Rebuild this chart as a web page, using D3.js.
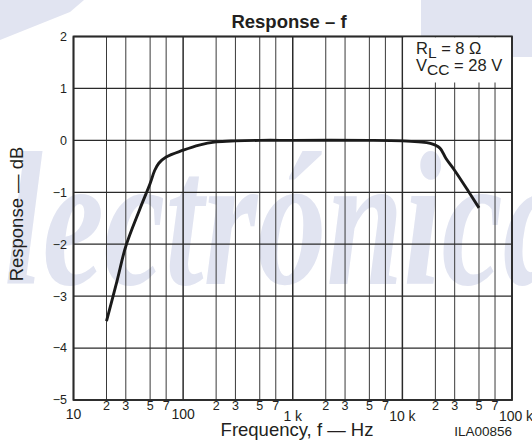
<!DOCTYPE html>
<html>
<head>
<meta charset="utf-8">
<script src="https://cdn.jsdelivr.net/npm/d3@7"></script>
<style>
  body { margin: 0; background: #fff; }
  svg text { font-family: "Liberation Sans", Arial, sans-serif; fill: #231f20; }
</style>
</head>
<body>
<script>
// curve data
const freqs = [20, 25, 30, 40, 50, 55, 60, 70, 100, 140, 200, 300, 500, 1000, 5000, 10000, 14000, 18000, 22000, 25000, 30000, 40000, 50000];
const response = [-3.48, -2.7, -2.04, -1.34, -0.83, -0.58, -0.44, -0.32, -0.19, -0.09, -0.03, -0.01, 0, 0, 0, -0.01, -0.03, -0.06, -0.15, -0.35, -0.58, -0.98, -1.3];

const decades = [10, 100, 1000, 10000, 100000];
const decadeLabels = ["10", "100", "1 k", "10 k", "100 k"];
const minorSteps = [2, 3, 5, 7];
const yTicks = [2, 1, 0, -1, -2, -3, -4, -5];

const W = 532, H = 442;
const pLeft = 73.5, pRight = 512, pTop = 36.5, pBottom = 400;

const svg = d3.select("body").append("svg")
  .attr("width", W)
  .attr("height", H);

const x = d3.scaleLog().domain([10, 100000]).range([pLeft, pRight]);
const y = d3.scaleLinear().domain([-5, 2]).range([pBottom, pTop]);

// faint watermark behind everything
const wm = "#e1e4f1";
svg.append("path")
  .attr("d", "M0,0 L84,0 L70,12 L0,40 Z")
  .attr("fill", wm);
svg.append("rect")
  .attr("x", 421).attr("y", 0).attr("width", 111).attr("height", 36)
  .attr("fill", wm);
svg.append("rect")
  .attr("x", 512).attr("y", 36).attr("width", 20).attr("height", 21)
  .attr("fill", wm);
svg.append("text")
  .attr("x", -88).attr("y", 284)
  .attr("textLength", 660)
  .attr("lengthAdjust", "spacingAndGlyphs")
  .style("font-family", "'Liberation Serif', 'DejaVu Serif', serif")
  .style("font-style", "italic")
  .style("font-weight", "bold")
  .style("font-size", "190px")
  .style("fill", wm)
  .text("Electrónica");

// minor vertical grid
const minorVals = [];
decades.slice(0, 4).forEach(d => minorSteps.forEach(m => minorVals.push(d * m)));

svg.append("g").selectAll("line")
  .data(minorVals)
  .enter().append("line")
  .attr("x1", d => x(d)).attr("x2", d => x(d))
  .attr("y1", pTop).attr("y2", pBottom)
  .attr("stroke", "#3a3a3a").attr("stroke-width", 1);

// decade lines
svg.append("g").selectAll("line")
  .data(decades)
  .enter().append("line")
  .attr("x1", d => x(d)).attr("x2", d => x(d))
  .attr("y1", pTop).attr("y2", pBottom)
  .attr("stroke", "#2a2a2a").attr("stroke-width", 1.5);

// horizontal grid
svg.append("g").selectAll("line")
  .data(yTicks)
  .enter().append("line")
  .attr("x1", pLeft).attr("x2", pRight)
  .attr("y1", d => y(d)).attr("y2", d => y(d))
  .attr("stroke", "#2a2a2a").attr("stroke-width", 1.3);

// frame
svg.append("rect")
  .attr("x", pLeft).attr("y", pTop)
  .attr("width", pRight - pLeft).attr("height", pBottom - pTop)
  .attr("fill", "none").attr("stroke", "#2a2a2a").attr("stroke-width", 1.8);

// response curve
const line = d3.line()
  .x((d, i) => x(freqs[i]))
  .y(d => y(d))
  .curve(d3.curveCatmullRom.alpha(0.5));

svg.append("path")
  .datum(response)
  .attr("d", line)
  .attr("fill", "none")
  .attr("stroke", "#1a1a1a")
  .attr("stroke-width", 2.9)
  .attr("stroke-linejoin", "round");

// legend box
svg.append("rect")
  .attr("x", x(10000) + 1).attr("y", pTop + 1)
  .attr("width", pRight - x(10000) - 2).attr("height", 45)
  .attr("fill", "#fff");

const leg1 = svg.append("text").attr("x", 416).attr("y", 54).style("font-size", "16.5px");
leg1.append("tspan").text("R");
leg1.append("tspan").attr("dy", 4).style("font-size", "15.5px").text("L");
leg1.append("tspan").attr("dy", -4).text(" = 8 Ω");

const leg2 = svg.append("text").attr("x", 416).attr("y", 71).style("font-size", "16.5px");
leg2.append("tspan").text("V");
leg2.append("tspan").attr("dy", 4).style("font-size", "15.5px").text("CC");
leg2.append("tspan").attr("dy", -4).text(" = 28 V");

// y tick labels
svg.append("g").selectAll("text")
  .data(yTicks)
  .enter().append("text")
  .attr("x", 67)
  .attr("y", d => y(d))
  .attr("dy", "0.35em")
  .attr("text-anchor", "end")
  .style("font-size", "12.5px")
  .text(d => d < 0 ? "\u2212" + Math.abs(d) : d);

// x tick labels: minor digits and decades
svg.append("g").selectAll("text")
  .data(minorVals)
  .enter().append("text")
  .attr("x", d => x(d))
  .attr("y", 410)
  .attr("text-anchor", "middle")
  .style("font-size", "12.5px")
  .text(d => String(d).charAt(0));

svg.append("g").selectAll("text")
  .data(decades)
  .enter().append("text")
  .attr("x", (d, i) => x(d) + (i === 4 ? 4 : 0))
  .attr("y", (d, i) => i >= 2 ? 421 : 419)
  .attr("text-anchor", "middle")
  .style("font-size", "14px")
  .text((d, i) => decadeLabels[i]);

// titles
svg.append("text")
  .attr("x", 289).attr("y", 28)
  .attr("text-anchor", "middle")
  .style("font-size", "18.5px")
  .style("font-weight", "bold")
  .text("Response \u2013 f");

svg.append("text")
  .attr("x", 297).attr("y", 436)
  .attr("text-anchor", "middle")
  .style("font-size", "18.5px")
  .text("Frequency, f \u2014 Hz");

svg.append("text")
  .attr("transform", "translate(23,214) rotate(-90)")
  .attr("text-anchor", "middle")
  .style("font-size", "18.5px")
  .text("Response \u2014 dB");

svg.append("text")
  .attr("x", 512).attr("y", 436)
  .attr("text-anchor", "end")
  .style("font-size", "13.5px")
  .text("ILA00856");
</script>
</body>
</html>
